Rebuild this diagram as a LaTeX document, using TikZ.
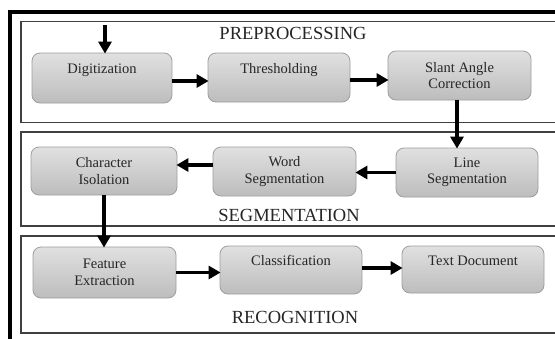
\documentclass[tikz,border=0pt]{standalone}
\usepackage{fontspec}
\setmainfont{Liberation Serif}
\usetikzlibrary{arrows.meta}
\newcommand{\upt}[1]{\raisebox{4.5pt}[0pt][0pt]{#1}}
\tikzset{
  frame/.style={line width=3.2pt, draw=black},
  panel/.style={line width=1.4pt, draw=black!75},
  procbox/.style={draw=black!38, line width=0.8pt, rounded corners=8pt,
    top color=black!12, bottom color=black!26,
    font=\fontsize{14.5}{16.5}\selectfont, text=black!85, align=center,
    inner sep=0pt},
  phase/.style={font=\fontsize{18.5}{20}\selectfont, text=black!85, inner sep=0pt},
  arr/.style={line width=3.8pt, draw=black, -{Triangle[length=12pt,width=13pt]}, shorten >=-1pt}
}
\begin{document}
\begin{tikzpicture}[x=1pt,y=-1pt]
\useasboundingbox (0,0) rectangle (555,338);
\fill[white] (0,0) rectangle (555,338);
% outer frame
\draw[frame] (10,12) rectangle (600,400);
% panels
\draw[panel] (21,21.5) rectangle (600,122.5);
\draw[panel] (21,132) rectangle (600,226);
\draw[panel] (21,236) rectangle (600,333);
% phase labels
\node[phase] (pre) at (293,33) {PREPROCESSING};
\node[phase] (seg) at (289,215.5) {SEGMENTATION};
\node[phase] (rec) at (295,317) {RECOGNITION};
% boxes
\node[procbox, minimum width=140pt, minimum height=50pt] (digit) at (102,78) {\upt{Digitization}};
\node[procbox, minimum width=142pt, minimum height=49pt] (thresh) at (279,77.5) {\upt{Thresholding}};
\node[procbox, minimum width=143pt, minimum height=49pt] (slant) at (459.5,75.5) {Slant Angle\\Correction};
\node[procbox, minimum width=142pt, minimum height=49pt] (line) at (467,172.5) {Line\\Segmentation};
\node[procbox, minimum width=143pt, minimum height=49pt] (word) at (284.5,171.5) {Word\\Segmentation};
\node[procbox, minimum width=146pt, minimum height=48pt] (char) at (104,171) {Character\\Isolation};
\node[procbox, minimum width=143pt, minimum height=51pt] (feat) at (104.5,272.5) {Feature\\Extraction};
\node[procbox, minimum width=142pt, minimum height=48pt] (class) at (291,270) {\upt{Classification}};
\node[procbox, minimum width=142pt, minimum height=47pt] (text) at (473,269.5) {\upt{Text Document}};
% arrows
\coordinate (in) at (105,25);
\draw[arr] (in) -- (in |- digit.north);
\draw[arr] ([yshift=-3pt]digit.east) -- ([yshift=-3pt]digit.east -| thresh.west);
\draw[arr] ([yshift=-2.5pt]thresh.east) -- ([yshift=-2.5pt]thresh.east -| slant.west);
\draw[arr] ([xshift=-2.5pt]slant.south) -- ([xshift=-2.5pt]slant.south |- line.north);
\draw[arr] (line.west) -- (line.west -| word.east);
\draw[arr] ([yshift=6.5pt]word.west) -- ([yshift=6.5pt]word.west -| char.east);
\draw[arr] (char.south) -- (char.south |- feat.north);
\draw[arr] (feat.east) -- (feat.east -| class.west);
\draw[arr] ([yshift=2pt]class.east) -- ([yshift=2pt]class.east -| text.west);
\end{tikzpicture}
\end{document}
